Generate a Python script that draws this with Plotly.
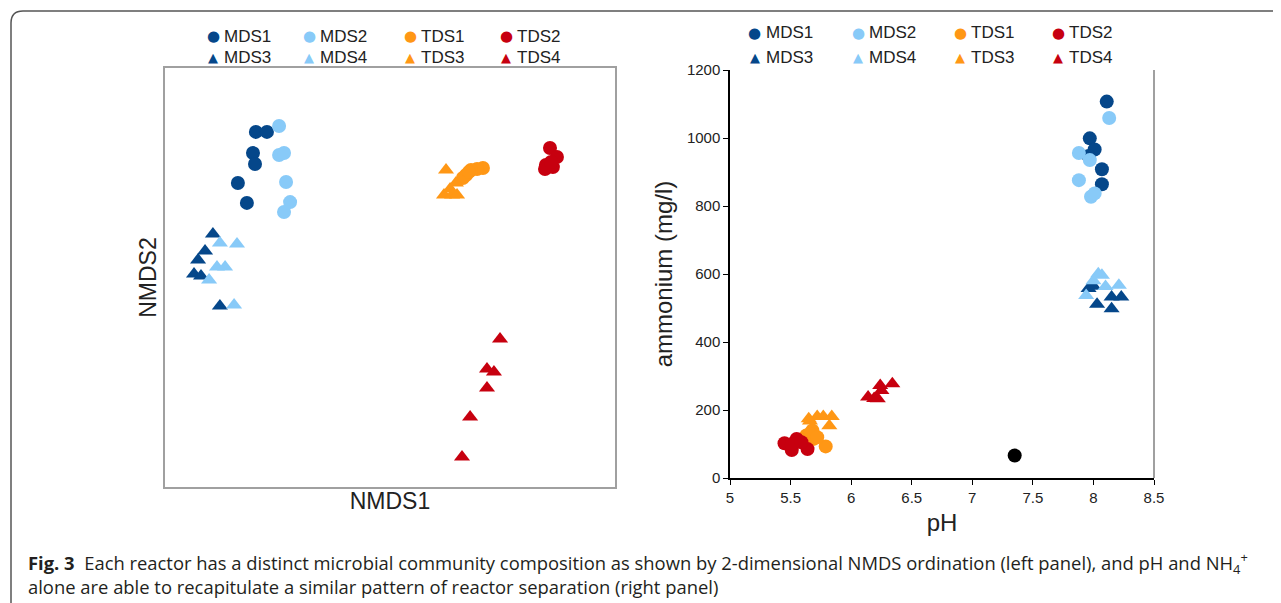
import plotly.graph_objects as go

# page body has an 8px margin; figure fills the rest of the 1281x603 window
OFF = 8
W, H = 1281 - OFF, 603 - OFF

# ---------------- data ----------------
series = ["MDS1", "MDS2", "TDS1", "TDS2", "MDS3", "MDS4", "TDS3", "TDS4"]
colors = {"MDS1": "#05478A", "MDS2": "#88CAF8", "TDS1": "#FF9715", "TDS2": "#C7000F",
          "MDS3": "#05478A", "MDS4": "#88CAF8", "TDS3": "#FF9715", "TDS4": "#C7000F"}
symbols = {"MDS1": "circle", "MDS2": "circle", "TDS1": "circle", "TDS2": "circle",
           "MDS3": "triangle-up", "MDS4": "triangle-up", "TDS3": "triangle-up", "TDS4": "triangle-up"}

# Left panel: NMDS ordination
nmds1 = {
    "MDS1": [-0.596, -0.547, -0.609, -0.600, -0.676, -0.636],
    "MDS2": [-0.493, -0.493, -0.471, -0.462, -0.444, -0.471],
    "TDS1": [0.413, 0.387, 0.360, 0.338, 0.324, 0.351],
    "TDS2": [0.711, 0.742, 0.693, 0.724, 0.689, 0.716],
    "MDS3": [-0.787, -0.822, -0.853, -0.871, -0.840, -0.756],
    "MDS4": [-0.756, -0.680, -0.769, -0.733, -0.804, -0.693],
    "TDS3": [0.249, 0.293, 0.240, 0.276, 0.298, 0.267],
    "TDS4": [0.489, 0.431, 0.462, 0.431, 0.356, 0.320],
}
nmds2 = {
    "MDS1": [0.695, 0.695, 0.594, 0.542, 0.451, 0.356],
    "MDS2": [0.723, 0.585, 0.594, 0.456, 0.360, 0.313],
    "TDS1": [0.523, 0.518, 0.513, 0.489, 0.475, 0.504],
    "TDS2": [0.618, 0.575, 0.537, 0.527, 0.518, 0.551],
    "MDS3": [0.208, 0.126, 0.084, 0.017, 0.007, -0.136],
    "MDS4": [0.165, 0.160, 0.050, 0.050, -0.012, -0.131],
    "TDS3": [0.513, 0.451, 0.394, 0.394, 0.394, 0.422],
    "TDS4": [-0.294, -0.437, -0.451, -0.527, -0.666, -0.857],
}

# Right panel: pH vs ammonium
ph = {
    "MDS1": [8.11, 7.97, 8.01, 7.96, 8.07, 8.07],
    "MDS2": [8.13, 7.88, 7.97, 7.88, 7.98, 8.01],
    "TDS1": [5.79, 5.63, 5.69, 5.68, 5.66, 5.72],
    "TDS2": [5.45, 5.51, 5.55, 5.64, 5.51, 5.59],
    "MDS3": [7.96, 8.00, 8.03, 8.15, 8.15, 8.23],
    "MDS4": [8.04, 8.07, 8.10, 8.21, 7.94, 8.00],
    "TDS3": [5.65, 5.72, 5.77, 5.84, 5.82, 5.66],
    "TDS4": [6.14, 6.19, 6.22, 6.24, 6.25, 6.34],
}
ammonium = {
    "MDS1": [1107, 999, 966, 947, 908, 864],
    "MDS2": [1059, 956, 935, 876, 827, 837],
    "TDS1": [93, 125, 115, 140, 130, 120],
    "TDS2": [102, 82, 115, 85, 100, 105],
    "MDS3": [557, 564, 511, 498, 532, 532],
    "MDS4": [601, 596, 563, 567, 537, 580],
    "TDS3": [174, 181, 181, 181, 154, 168],
    "TDS4": [238, 234, 233, 272, 257, 277],
}
control_ph = [7.35]
control_ammonium = [66]

x_ticks = [5, 5.5, 6, 6.5, 7, 7.5, 8, 8.5]
y_ticks = [0, 200, 400, 600, 800, 1000, 1200]

caption1 = ("<b>Fig. 3</b>  Each reactor has a distinct microbial community composition as shown by "
            "2-dimensional NMDS ordination (left panel), and pH and NH<sub>4</sub><sup>+</sup>")
caption2 = "alone are able to recapitulate a similar pattern of reactor separation (right panel)"

# ---------------- figure ----------------
fig = go.Figure()
MS = 14
for s in series:
    fig.add_trace(go.Scatter(x=nmds1[s], y=nmds2[s], mode="markers", name=s,
                             marker=dict(symbol=symbols[s], color=colors[s], size=MS, line=dict(width=0)),
                             xaxis="x", yaxis="y", showlegend=False))
for s in series:
    fig.add_trace(go.Scatter(x=ph[s], y=ammonium[s], mode="markers", name=s,
                             marker=dict(symbol=symbols[s], color=colors[s], size=MS, line=dict(width=0)),
                             xaxis="x2", yaxis="y2", showlegend=False))
fig.add_trace(go.Scatter(x=control_ph, y=control_ammonium, mode="markers", name="control",
                         marker=dict(symbol="circle", color="black", size=MS),
                         xaxis="x2", yaxis="y2", showlegend=False))

def px(x):
    return (x - OFF) / W

def py(y):
    return (H - (y - OFF)) / H

font = "Liberation Sans, Arial, sans-serif"

fig.update_layout(
    width=W, height=H,
    margin=dict(l=0, r=0, t=0, b=0, pad=0, autoexpand=False),
    paper_bgcolor="white", plot_bgcolor="white",
    font=dict(family=font, color="#222222"),
    xaxis=dict(domain=[px(165), px(615)], range=[-1, 1], showticklabels=False, ticks="",
               showgrid=False, zeroline=False, showline=True, mirror=True, automargin=False,
               linecolor="#A0A0A0", linewidth=2,
               title=dict(text="NMDS1", font=dict(size=23, color="#222"), standoff=5)),
    yaxis=dict(domain=[py(487), py(68)], range=[-1, 1], showticklabels=False, ticks="",
               showgrid=False, zeroline=False, showline=True, mirror=True, automargin=False,
               linecolor="#A0A0A0", linewidth=2,
               title=dict(text="NMDS2", font=dict(size=23, color="#222"), standoff=0)),
    xaxis2=dict(domain=[px(730), px(1154)], range=[5, 8.5], tickvals=x_ticks,
                ticktext=[str(v) for v in x_ticks], ticks="outside", ticklen=5,
                tickcolor="black", showgrid=False, zeroline=False, showline=True,
                linecolor="black", linewidth=1.5, anchor="y2", automargin=False,
                tickfont=dict(size=15, color="#222"),
                title=dict(text="pH", font=dict(size=24, color="#222"), standoff=9)),
    yaxis2=dict(domain=[py(478), py(70)], range=[0, 1200], tickvals=y_ticks,
                ticks="outside", ticklen=5, tickcolor="black", showgrid=False,
                zeroline=False, showline=True, linecolor="black", linewidth=1.5,
                anchor="x2", automargin=False, tickfont=dict(size=15, color="#222"),
                title=dict(text="ammonium (mg/l)", font=dict(size=24, color="#222"), standoff=7)),
)

# right border of right panel (grey)
fig.add_shape(type="line", xref="x2 domain", yref="y2 domain", x0=1, x1=1, y0=0, y1=1,
              line=dict(color="#A0A0A0", width=2))

# outer rounded frame
path = (f"M {px(1295)},{py(11)} L {px(23)},{py(11)} "
        f"Q {px(11)},{py(11)} {px(11)},{py(23)} L {px(11)},{py(615)}")
fig.add_shape(type="path", xref="paper", yref="paper", path=path,
              line=dict(color="#555555", width=1.5))

# legends (manual)
def add_legend(xs, rows, rows_y):
    for row_i, row in enumerate(rows):
        yy = rows_y[row_i]
        for j, s in enumerate(row):
            glyph = "●" if symbols[s] == "circle" else "▲"
            fig.add_annotation(x=px(xs[j]), y=py(yy), xref="paper", yref="paper",
                               text=glyph, showarrow=False, xanchor="center", yanchor="middle",
                               font=dict(size=15 if glyph == "●" else 13, color=colors[s],
                                         family="DejaVu Sans"))
            fig.add_annotation(x=px(xs[j] + 9), y=py(yy), xref="paper", yref="paper",
                               text=s, showarrow=False, xanchor="left", yanchor="middle",
                               font=dict(size=17, color="#222", family=font))

rows = [["MDS1", "MDS2", "TDS1", "TDS2"], ["MDS3", "MDS4", "TDS3", "TDS4"]]
add_legend([213, 309, 410, 506], rows, [36, 57])
add_legend([755, 858, 960, 1058], rows, [33, 57])

# caption
cap_font = dict(family="Open Sans, sans-serif", size=18.4, color="#231F20")
fig.add_annotation(x=px(26), y=py(563), xref="paper", yref="paper", text=caption1,
                   showarrow=False, xanchor="left", yanchor="middle", font=cap_font)
fig.add_annotation(x=px(26), y=py(586), xref="paper", yref="paper", text=caption2,
                   showarrow=False, xanchor="left", yanchor="middle", font=cap_font)

fig.write_html("out.html")
